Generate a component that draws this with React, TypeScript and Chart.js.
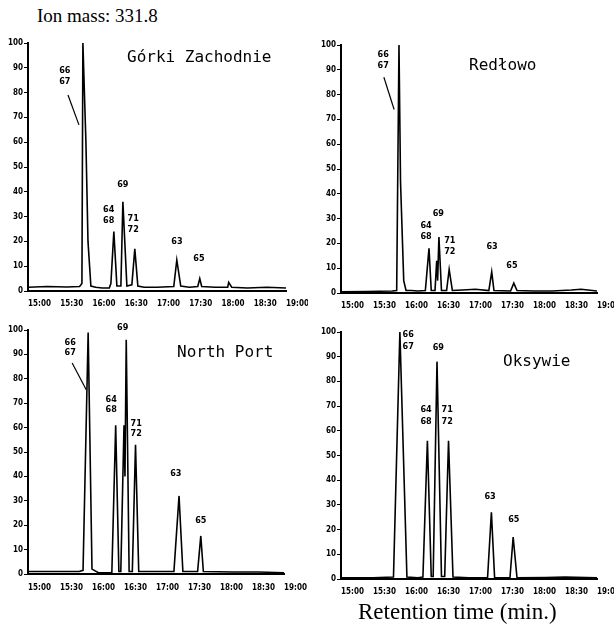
import React, { useEffect, useRef } from "react";
import { Chart, registerables } from "chart.js";

Chart.register(...registerables);

// ---------- tick labels ----------
const xTickLabels = ["15:00", "15:30", "16:00", "16:30", "17:00", "17:30", "18:00", "18:30", "19:00"];
const yTickLabels = ["0", "10", "20", "30", "40", "50", "60", "70", "80", "90", "100"];

// ---------- Górki Zachodnie ----------
const gorkiTimes = [15.0, 15.3, 15.6, 15.8, 15.836, 15.851, 15.898, 15.93, 15.975, 16.05, 16.15, 16.26, 16.285, 16.331, 16.378, 16.44, 16.471, 16.533, 16.61, 16.656, 16.703, 16.8, 17.0, 17.26, 17.307, 17.368, 17.5, 17.632, 17.663, 17.693, 17.9, 18.096, 18.111, 18.158, 18.4, 18.7, 19.0];
const gorkiSignal = [1.5, 1.8, 1.6, 1.8, 3, 100, 60, 20, 2, 1.5, 1.2, 1.2, 3, 24, 2, 2, 36, 2, 2.5, 17, 2, 1.5, 1.5, 1.8, 12.5, 2, 1.5, 1.8, 5, 1.8, 1.5, 1.5, 3.5, 1.5, 1.2, 1.5, 1.2];
const gorkiPeakNames = [["66", "67"], ["64", "68"], ["69"], ["71", "72"], ["63"], ["65"]];
const gorkiLabelTimes = [15.57, 16.25, 16.47, 16.63, 17.31, 17.65];
const gorkiLabelLevels = [88.7, 33, 43, 29, 20, 13];
const gorkiLeader = [15.62, 79, 15.79, 67];

// ---------- Redłowo ----------
const redlowoTimes = [15.0, 15.4, 15.8, 15.87, 15.906, 15.93, 15.98, 16.016, 16.1, 16.2, 16.318, 16.375, 16.41, 16.469, 16.495, 16.51, 16.53, 16.57, 16.65, 16.69, 16.74, 16.9, 17.1, 17.31, 17.355, 17.39, 17.65, 17.7, 17.75, 18.0, 18.3, 18.6, 18.75, 19.0];
const redlowoSignal = [0.5, 0.6, 0.8, 1, 100, 45, 5, 1, 1, 0.8, 1, 18, 1, 1, 13, 5, 22.6, 1, 1, 9.5, 1, 1.2, 1.5, 1, 8.5, 1, 0.8, 4, 1, 0.8, 0.8, 1.2, 1.5, 0.8];
const redlowoPeakNames = [["66", "67"], ["64", "68"], ["69"], ["71", "72"], ["63"], ["65"]];
const redlowoLabelTimes = [15.66, 16.33, 16.52, 16.70, 17.36, 17.67];
const redlowoLabelLevels = [96, 27, 32, 21, 18.5, 11];
const redlowoLeader = [15.67, 87, 15.83, 74];

// ---------- North Port ----------
const northTimes = [15.0, 15.4, 15.8, 15.86, 15.94, 16.0, 16.1, 16.31, 16.37, 16.42, 16.45, 16.5, 16.515, 16.535, 16.58, 16.63, 16.68, 16.73, 17.0, 17.28, 17.36, 17.42, 17.65, 17.7, 17.74, 18.2, 18.6, 19.0];
const northSignal = [1, 1, 1, 1.5, 99, 2, 0.5, 0.5, 61, 1, 1, 61, 40, 96, 1, 1, 53, 1, 1, 1, 32, 1, 1, 15.6, 1, 0.8, 0.8, 0.5];
const northPeakNames = [["66", "67"], ["64", "68"], ["69"], ["71", "72"], ["63"], ["65"]];
const northLabelTimes = [15.66, 16.30, 16.48, 16.69, 17.31, 17.70];
const northLabelLevels = [95, 71.4, 101, 61.6, 41, 22];
const northLeader = [15.69, 86.5, 15.91, 75.5];

// ---------- Oksywie ----------
const oksywieTimes = [15.0, 15.5, 15.82, 15.92, 16.03, 16.2, 16.28, 16.35, 16.41, 16.44, 16.5, 16.57, 16.62, 16.68, 16.75, 17.0, 17.29, 17.35, 17.4, 17.64, 17.69, 17.75, 18.2, 18.5, 19.0];
const oksywieSignal = [0.5, 0.5, 0.8, 100, 0.8, 0.5, 0.8, 56, 1, 1, 88, 1, 1, 56, 0.8, 0.5, 0.5, 27, 0.5, 0.5, 17, 0.5, 0.6, 0.8, 0.5];
const oksywiePeakNames = [["66", "67"], ["64", "68"], ["69"], ["71", "72"], ["63"], ["65"]];
const oksywieLabelTimes = [16.05, 16.33, 16.52, 16.66, 17.33, 17.70];
const oksywieLabelLevels = [98.8, 68.5, 93.5, 68.5, 33.5, 24];
const oksywieLeader: number[] = [];

const NARROW = '"Liberation Sans Narrow", "DejaVu Sans Condensed", sans-serif';

type PanelCfg = {
  title: string;
  times: number[];
  signal: number[];
  names: string[][];
  labelTimes: number[];
  labelLevels: number[];
  leader: number[];
  left: number;
  top: number;
  w: number;
  h: number;
  padTop: number;
  padRight: number;
  yAxisW: number;
  xAxisH: number;
  xPad: number;
  titleX: number;
  titleY: number;
  lineGap: number;
};

const panels: PanelCfg[] = [
  {
    title: "Górki Zachodnie", times: gorkiTimes, signal: gorkiSignal, names: gorkiPeakNames,
    labelTimes: gorkiLabelTimes, labelLevels: gorkiLabelLevels, leader: gorkiLeader,
    left: 0, top: 30, w: 308, h: 285, padTop: 13, padRight: 22, yAxisW: 28, xAxisH: 24, xPad: 8,
    titleX: 127, titleY: 32, lineGap: 11,
  },
  {
    title: "Redłowo", times: redlowoTimes, signal: redlowoSignal, names: redlowoPeakNames,
    labelTimes: redlowoLabelTimes, labelLevels: redlowoLabelLevels, leader: redlowoLeader,
    left: 310, top: 30, w: 304, h: 285, padTop: 15, padRight: 17, yAxisW: 31, xAxisH: 22, xPad: 8,
    titleX: 159, titleY: 40, lineGap: 11,
  },
  {
    title: "North Port", times: northTimes, signal: northSignal, names: northPeakNames,
    labelTimes: northLabelTimes, labelLevels: northLabelLevels, leader: northLeader,
    left: 0, top: 318, w: 308, h: 285, padTop: 12, padRight: 24, yAxisW: 28, xAxisH: 29, xPad: 9,
    titleX: 177, titleY: 39, lineGap: 10,
  },
  {
    title: "Oksywie", times: oksywieTimes, signal: oksywieSignal, names: oksywiePeakNames,
    labelTimes: oksywieLabelTimes, labelLevels: oksywieLabelLevels, leader: oksywieLeader,
    left: 310, top: 318, w: 304, h: 285, padTop: 14, padRight: 17, yAxisW: 31, xAxisH: 24, xPad: 8,
    titleX: 193, titleY: 48, lineGap: 12,
  },
];

function Panel({ cfg }: { cfg: PanelCfg }) {
  const ref = useRef<HTMLCanvasElement>(null);
  useEffect(() => {
    const annot = {
      id: "annot",
      afterDraw(chart: any) {
        const ctx = chart.ctx;
        const xs = chart.scales.x;
        const ys = chart.scales.y;
        ctx.save();
        ctx.fillStyle = "#000";
        ctx.strokeStyle = "#000";
        // title
        ctx.font = '16px "DejaVu Sans Mono", monospace';
        ctx.textAlign = "left";
        ctx.textBaseline = "alphabetic";
        ctx.fillText(cfg.title, cfg.titleX, cfg.titleY);
        // peak labels
        ctx.font = `bold 9px ${NARROW}`;
        ctx.textAlign = "center";
        ctx.textBaseline = "middle";
        cfg.names.forEach((lines, i) => {
          const px = xs.getPixelForValue(cfg.labelTimes[i]);
          const py = ys.getPixelForValue(cfg.labelLevels[i]);
          lines.forEach((s, j) => ctx.fillText(s, px, py + j * cfg.lineGap));
        });
        // leader line
        if (cfg.leader.length === 4) {
          ctx.lineWidth = 1.2;
          ctx.beginPath();
          ctx.moveTo(xs.getPixelForValue(cfg.leader[0]), ys.getPixelForValue(cfg.leader[1]));
          ctx.lineTo(xs.getPixelForValue(cfg.leader[2]), ys.getPixelForValue(cfg.leader[3]));
          ctx.stroke();
        }
        ctx.restore();
      },
    };
    const chart = new Chart(ref.current!, {
      type: "line",
      data: {
        datasets: [
          {
            data: cfg.times.map((t, i) => ({ x: t, y: cfg.signal[i] })),
            borderColor: "#000",
            borderWidth: 1.6,
            pointRadius: 0,
            tension: 0,
            fill: false,
          },
        ],
      },
      options: {
        animation: false,
        responsive: false,
        devicePixelRatio: 1,
        layout: { padding: { top: cfg.padTop, right: cfg.padRight, left: 0, bottom: 0 } },
        plugins: { legend: { display: false }, tooltip: { enabled: false } },
        scales: {
          x: {
            type: "linear",
            min: 15,
            max: 19,
            afterBuildTicks: (s: any) => {
              s.ticks = xTickLabels.map((_, i) => ({ value: 15 + i * 0.5 }));
            },
            ticks: {
              align: "start",
              padding: cfg.xPad,
              maxRotation: 0,
              minRotation: 0,
              autoSkip: false,
              color: "#000",
              font: { family: NARROW, size: 8, weight: "bold" },
              callback: (_v: any, i: number) => xTickLabels[i],
            },
            grid: { display: false, drawTicks: false, tickLength: 0 },
            border: { display: true, color: "#000", width: 2 },
            afterFit: (s: any) => {
              s.height = cfg.xAxisH;
              s.paddingLeft = 0;
              s.paddingRight = 0;
            },
          },
          y: {
            type: "linear",
            min: 0,
            max: 100,
            afterBuildTicks: (s: any) => {
              s.ticks = yTickLabels.map((_, i) => ({ value: i * 10 }));
            },
            ticks: {
              padding: 1,
              autoSkip: false,
              color: "#000",
              font: { family: NARROW, size: 8, weight: "bold" },
              callback: (_v: any, i: number) => yTickLabels[i],
            },
            grid: { drawOnChartArea: false, drawTicks: true, tickLength: 4, color: "#000", lineWidth: 1 },
            border: { display: true, color: "#000", width: 2 },
            afterFit: (s: any) => {
              s.width = cfg.yAxisW;
              s.paddingTop = 0;
              s.paddingBottom = 0;
            },
          },
        },
      } as any,
      plugins: [annot],
    });
    return () => chart.destroy();
  }, []);
  return (
    <canvas
      ref={ref}
      width={cfg.w}
      height={cfg.h}
      style={{ position: "absolute", left: cfg.left, top: cfg.top, width: cfg.w, height: cfg.h }}
    />
  );
}

export default function App() {
  return (
    <div style={{ position: "fixed", left: 0, top: 0, width: 614, height: 638, background: "#fff", overflow: "hidden" }}>
      <div
        style={{
          position: "absolute", left: 37, top: 6, fontFamily: '"Liberation Serif", serif',
          fontSize: 19, lineHeight: "19px", color: "#000", whiteSpace: "nowrap",
        }}
      >
        Ion mass: 331.8
      </div>
      {panels.map((p, i) => (
        <Panel key={i} cfg={p} />
      ))}
      <div
        style={{
          position: "absolute", left: 358, top: 600, fontFamily: '"Liberation Serif", serif',
          fontSize: 23, lineHeight: "23px", color: "#000", whiteSpace: "nowrap",
        }}
      >
        Retention time (min.)
      </div>
    </div>
  );
}
